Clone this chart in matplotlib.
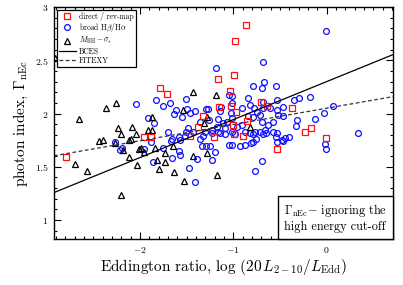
import matplotlib
matplotlib.use("Agg")
import matplotlib.pyplot as plt
import numpy as np
from matplotlib.ticker import MultipleLocator, FuncFormatter
from matplotlib.offsetbox import AnchoredText

plt.rcParams['font.family'] = 'serif'
plt.rcParams['font.serif'] = ['cmr10', 'DejaVu Serif']
plt.rcParams['mathtext.fontset'] = 'cm'
plt.rcParams['axes.unicode_minus'] = False

# direct / reverberation mapping masses
rev_x = [-2.794, -1.787, -1.712, -0.865, -0.977, -1.162, -0.994, -1.036, -1.149, -1.020,
         -0.704, -0.637, -0.367, -1.329, -1.004, -0.851, -0.166, -0.230, -1.208, -0.988,
         -0.894, -0.011, -0.527, -1.383, -1.465, -0.972, -1.958, -1.883]
rev_y = [1.593, 2.240, 2.184, 2.831, 2.681, 2.329, 2.362, 2.212, 2.064, 2.073,
         2.106, 2.071, 2.053, 1.973, 1.893, 1.931, 1.868, 1.826, 1.783, 1.804,
         1.785, 1.774, 1.665, 1.877, 1.793, 2.012, 1.780, 1.780]

# broad Hbeta / Halpha masses
broad_x = [-2.044, -1.824, -1.751, -1.680, -1.608, -1.634, -1.548, -1.505, -1.494, -1.468,
           -1.412, -1.915, -1.851, -1.698, -1.583, -1.501, -1.483, -2.269, -2.194, -1.953,
           -1.858, -1.751, -1.669, -1.651, -1.580, -1.572, -1.473, -1.412, -1.390, -1.876,
           -1.186, -1.275, -1.136, -1.144, -1.026, -1.047, -1.358, -1.258, -1.162, -1.108,
           -1.179, -1.065, -1.090, -1.018, -1.162, -1.304, -1.233, -1.661, -1.572, -1.358,
           -1.340, -1.251, -1.294, -1.197, -1.224, -1.044, -1.144, -1.323, -1.519, -1.430,
           -1.233, -1.090, -0.686, -0.793, -0.669, -0.697, -0.543, -1.018, -0.840, -0.347,
           -0.297, -0.174, -0.472, -0.536, -0.519, -0.472, -0.608, -0.680, -0.911, -0.779,
           -0.822, -0.750, -0.715, -0.793, -0.840, -1.018, -1.018, -0.315, -0.572, -0.690,
           -0.626, -0.661, -0.572, -0.324, -0.911, -0.965, -0.768, -0.715, -0.876, -0.536,
           -0.983, -0.822, -0.787, -0.680, -0.651, -0.543, -0.536, -0.482, -0.447, -0.401,
           -1.018, -0.929, -0.876, -0.815, -0.787, -0.758, -0.697, -0.768, -0.007, 0.064,
           -0.029, -0.125, 0.339, -1.294, -0.007, -0.018, -0.465, -0.680, -0.536, -2.208]
broad_y = [2.087, 2.123, 2.073, 2.097, 2.034, 1.994, 1.965, 2.134, 2.043, 2.006,
           2.024, 1.956, 1.907, 1.823, 1.783, 1.830, 1.862, 1.736, 1.673, 1.668,
           1.549, 1.674, 1.743, 1.581, 1.644, 1.612, 1.487, 1.358, 1.574, 1.736,
           2.428, 2.040, 2.057, 2.027, 2.008, 2.170, 1.924, 1.940, 1.947, 1.909,
           1.877, 1.924, 1.862, 1.830, 1.830, 1.830, 1.846, 1.759, 1.752, 1.759,
           1.696, 1.696, 1.696, 1.643, 1.565, 1.705, 1.821, 1.790, 1.790, 1.830,
           1.815, 1.809, 2.482, 2.256, 2.292, 2.237, 2.256, 2.165, 2.144, 2.128,
           2.144, 2.160, 2.065, 2.034, 1.987, 1.977, 2.048, 2.050, 2.050, 2.054,
           2.081, 2.012, 1.987, 1.965, 1.977, 2.097, 1.956, 1.940, 1.924, 1.918,
           1.893, 1.846, 1.830, 1.884, 1.893, 1.877, 1.830, 1.830, 1.830, 1.815,
           1.809, 1.815, 1.804, 1.809, 1.821, 1.783, 1.736, 1.752, 1.768, 1.778,
           1.705, 1.696, 1.705, 1.721, 1.736, 1.759, 1.553, 1.464, 2.780, 2.073,
           2.003, 1.945, 1.813, 2.043, 1.665, 1.715, 1.743, 2.112, 2.128, 1.659]

# M_BH - sigma masses
msig_x = [-2.698, -2.566, -2.650, -2.365, -2.261, -2.234, -2.084, -2.207, -2.047, -1.915,
          -1.872, -1.867, -2.440, -2.394, -2.090, -2.119, -1.993, -2.205, -2.180, -2.119,
          -2.036, -2.010, -1.956, -1.835, -1.726, -1.819, -1.726, -1.797, -1.640, -1.526,
          -1.648, -1.426, -1.280, -1.176, -1.430, -1.186, -1.537, -1.312, -1.280, -0.822,
          -2.269, -2.910]
msig_y = [1.524, 1.462, 1.949, 2.050, 2.102, 1.868, 1.869, 1.804, 1.809, 1.846,
          1.846, 1.968, 1.743, 1.748, 1.759, 1.752, 1.673, 1.236, 1.659, 1.588,
          1.518, 1.668, 1.635, 1.680, 1.628, 1.565, 1.543, 1.479, 1.454, 1.370,
          1.692, 1.602, 1.631, 1.424, 2.203, 2.170, 2.034, 1.909, 1.971, 1.877,
          1.721, 2.520]

# fits: intercept, slope
bces = (2.30, 0.357)
fitexy = (2.05, 0.153)

xlim = (-2.92, 0.71)
ylim = (0.82, 3.0)

fig = plt.figure(figsize=(4.03, 2.85), dpi=100)
ax = fig.add_axes([0.134, 0.161, 0.841, 0.814])

ms = 4.2
ax.plot(broad_x, broad_y, 'o', mfc='none', mec='#1010ff', mew=0.9, ms=ms, ls='none',
        label=r'broad H$\beta$/H$\alpha$')
ax.plot(msig_x, msig_y, '^', mfc='none', mec='black', mew=0.9, ms=ms, ls='none',
        label=r'$M_{\rm BH}-\sigma_{*}$')
ax.plot(rev_x, rev_y, 's', mfc='none', mec='#ff1010', mew=0.9, ms=ms - 0.4, ls='none',
        label='direct / rev-map')

xx = np.array(xlim)
ax.plot(xx, bces[0] + bces[1] * xx, '-', color='black', lw=0.9, label='BCES')
ax.plot(xx, fitexy[0] + fitexy[1] * xx, '--', color='#333333', lw=0.9,
        dashes=(3, 2), label='FITEXY')

ax.set_xlim(*xlim)
ax.set_ylim(*ylim)

ax.xaxis.set_major_locator(MultipleLocator(1))
ax.xaxis.set_minor_locator(MultipleLocator(0.1))
ax.yaxis.set_major_locator(MultipleLocator(0.5))
ax.yaxis.set_minor_locator(MultipleLocator(0.1))
fmt = FuncFormatter(lambda v, p: r'$%g$' % v)
ax.xaxis.set_major_formatter(fmt)
ax.yaxis.set_major_formatter(fmt)
ax.tick_params(which='both', direction='in', top=True, right=True, labelsize=7, width=0.8)
ax.tick_params(which='major', length=5, pad=4)
ax.tick_params(which='minor', length=2.5)
for s in ax.spines.values():
    s.set_linewidth(1.0)

ax.set_xlabel(r'Eddington ratio, $\log\,(20\,L_{2-10}/L_{\rm Edd})$', fontsize=11, labelpad=2)
ax.set_ylabel(r'photon index, $\Gamma_{\rm nEc}$', fontsize=11, labelpad=3)

h, l = ax.get_legend_handles_labels()
order = [2, 0, 1, 3, 4]
leg = ax.legend([h[i] for i in order], [l[i] for i in order], loc='upper left',
                fontsize=5.5, numpoints=1, frameon=True, fancybox=False,
                edgecolor='black', framealpha=1, borderaxespad=0.35,
                handlelength=2.2, handletextpad=0.4, labelspacing=0.12, borderpad=0.3)
leg.get_frame().set_linewidth(0.9)

at = AnchoredText(r'$\Gamma_{\rm nEc}$$-$ ignoring the' + '\n' + 'high energy cut-off',
                  loc='lower right', prop=dict(size=8.8, linespacing=1.2),
                  frameon=True, pad=0.5, borderpad=0)
at.patch.set_linewidth(1.0)
ax.add_artist(at)

fig.savefig('out.png', dpi=100)
